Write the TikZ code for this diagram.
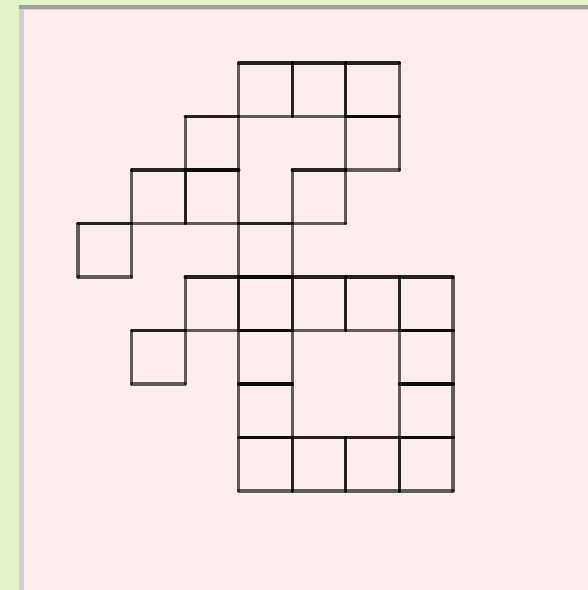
\documentclass[tikz,border=0pt]{standalone}
\usepackage{tikz}

\definecolor{pagegreen}{RGB}{227,245,198}
\definecolor{panelpink}{RGB}{253,238,237}
\definecolor{frameleft}{RGB}{208,208,208}
\definecolor{frametop}{RGB}{160,160,160}

\begin{document}
\begin{tikzpicture}[
  x=1pt, y=-1pt,
  edge/.style={line width=3.1pt, draw=black, opacity=0.62, line cap=round}
]
  % page and panel
  \fill[pagegreen] (0,0) rectangle (588,590);
  \useasboundingbox (0,0) rectangle (588,590);
  \fill[frameleft] (19,5) rectangle (588,590);
  \fill[frametop] (19,5) rectangle (588,9);
  \fill[panelpink] (24,10) rectangle (588,590);

  % cells (column/row), top edge drawn twice
  \foreach \c/\r in {3/0,4/0,5/0, 2/1,5/1, 1/2,2/2,4/2, 0/3,3/3,
                     2/4,3/4,4/4,5/4,6/4, 1/5,3/5,6/5, 3/6,6/6,
                     3/7,4/7,5/7,6/7} {
    \coordinate (tl) at (78+53.57*\c, 63+53.5*\r);
    \coordinate (tr) at (78+53.57*\c+53.57, 63+53.5*\r);
    \coordinate (bl) at (78+53.57*\c, 63+53.5*\r+53.5);
    \coordinate (br) at (78+53.57*\c+53.57, 63+53.5*\r+53.5);
    \draw[edge] (tl) -- (tr);
    \draw[edge] (tl) -- (tr);
    \draw[edge] (tr) -- (br);
    \draw[edge] (bl) -- (br);
    \draw[edge] (tl) -- (bl);
  }
\end{tikzpicture}
\end{document}
